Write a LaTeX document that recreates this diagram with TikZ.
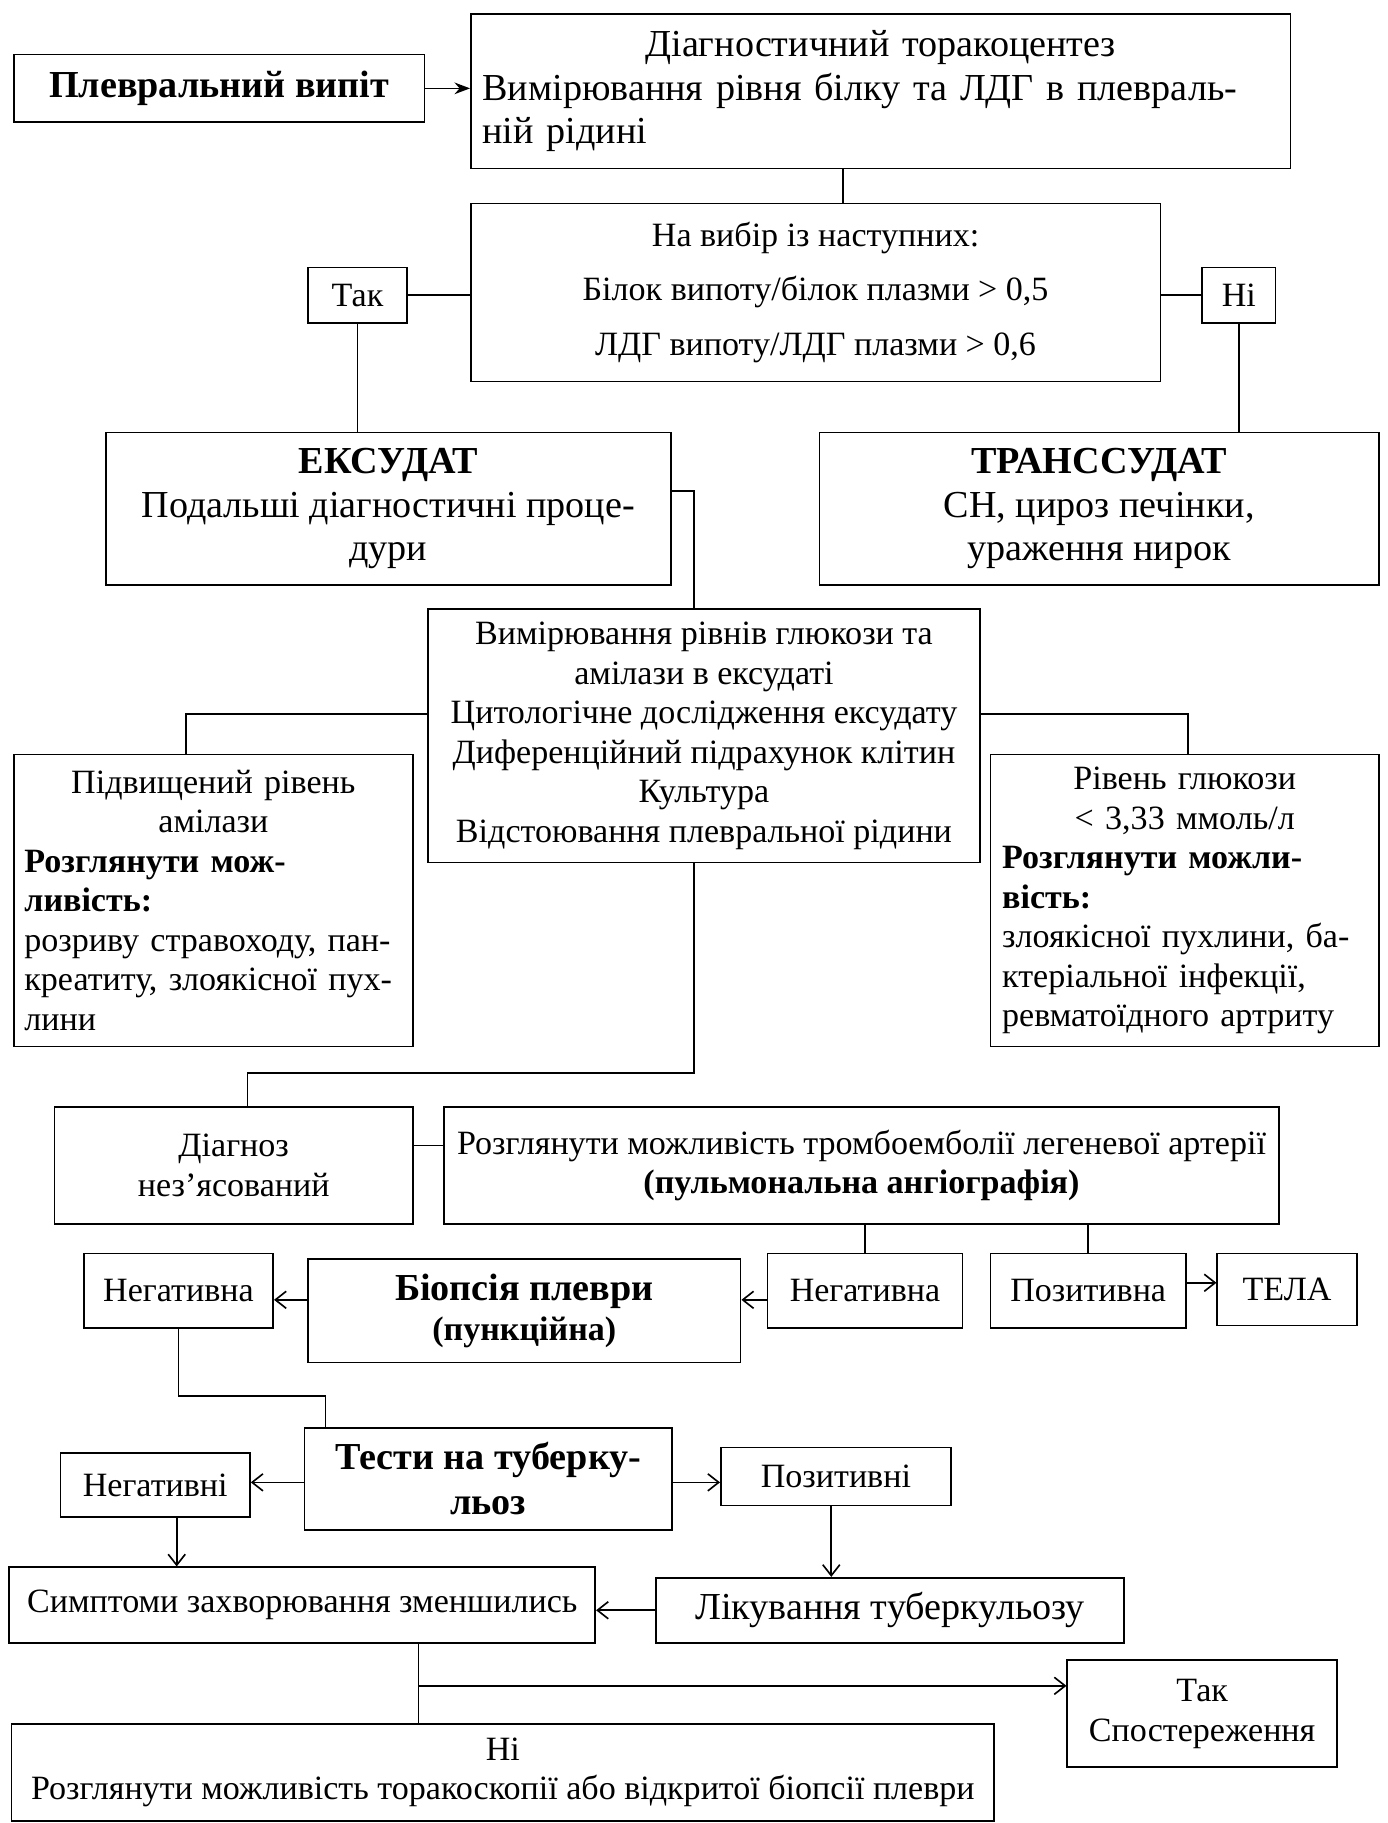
\documentclass[tikz,border=0pt]{standalone}
\usepackage{fontspec}
\setmainfont{Liberation Serif}
\usetikzlibrary{arrows.meta}
\tikzstyle{block}=[draw, line width=0.6pt, inner sep=2pt, align=center, font=\fontsize{12.5}{14.5}\selectfont]
\tikzstyle{big}=[font=\fontsize{14}{16}\selectfont]
\tikzstyle{bigb}=[font=\fontsize{14}{16.5}\selectfont\bfseries]
\tikzstyle{arr}=[-{Straight Barb[length=1.4mm, width=2.2mm]}]
\tikzset{wh/.style 2 args={minimum width=#1*0.15mm, minimum height=#2*0.15mm}}
\newcommand{\hd}[1]{{\fontsize{14}{16}\selectfont\bfseries #1}}
\newcommand{\ctrline}[1]{\hfill#1\hfill\null\\}

\begin{document}
\begin{tikzpicture}[x=0.15mm, y=-0.15mm, line width=0.6pt]
\useasboundingbox (0,0) rectangle (1193,1568);

\node [block, bigb, wh={353}{58}] (plev) at (188.5, 76) {Плевральний випіт};
\node [block, big, wh={705}{133}, text width=685*0.15mm, align=left] (diag) at (757.5, 78.5)
  {\ctrline{Діагностичний торакоцентез}Вимірювання рівня білку та ЛДГ в плевраль-\\ній рідині};
\node [block, wh={593}{153}] (choice) at (701.5, 251.5)
  {На вибір із наступних:\\[1.9mm] Білок випоту/білок плазми > 0,5\\[1.9mm] ЛДГ випоту/ЛДГ плазми > 0,6};
\node [block, wh={85}{48}]  (tak) at (307.5, 254) {Так};
\node [block, wh={63}{48}]  (ni)  at (1065.5, 254) {Ні};

\node [block, big, wh={486}{131}] (exud)  at (334, 437.5)   {\hd{ЕКСУДАТ}\\Подальші діагностичні проце-\\дури};
\node [block, big, wh={481}{131}] (trans) at (945.5, 437.5) {\hd{ТРАНССУДАТ}\\СН, цироз печінки,\\ураження нирок};

\node [block, wh={475}{218}] (meas) at (605.5, 633)
  {Вимірювання рівнів глюкози та\\амілази в ексудаті\\Цитологічне дослідження ексудату\\Диференційний підрахунок клітин\\Культура\\Відстоювання плевральної рідини};
\node [block, wh={343}{251}, text width=325*0.15mm, align=left] (amyl) at (183.5, 774.5)
  {\ctrline{Підвищений рівень}\ctrline{амілази}\textbf{Розглянути мож-\\ливість:}\\розриву стравоходу, пан-\\креатиту, злоякісної пух-\\лини};
\node [block, wh={334}{251}, text width=314*0.15mm, align=left] (gluc) at (1019, 774.5)
  {\ctrline{Рівень глюкози}\ctrline{< 3,33 ммоль/л}\textbf{Розглянути можли-\\вість:}\\злоякісної пухлини, ба-\\ктеріальної інфекції,\\ревматоїдного артриту};

\node [block, wh={308}{101}] (diagn) at (201, 1002.5) {Діагноз\\нез’ясований};
\node [block, wh={718}{101}] (pe)    at (741, 1002.5)
  {Розглянути можливість тромбоемболії легеневої артерії\\\textbf{(пульмональна ангіографія)}};

\node [block, wh={168}{64}] (neg1) at (744, 1110)  {Негативна};
\node [block, wh={168}{64}] (poz)  at (936, 1110)  {Позитивна};
\node [block, wh={120}{62}] (tela) at (1107, 1109) {ТЕЛА};
\node [block, wh={372}{89}] (biop) at (451, 1127.5) {\hd{Біопсія плеври}\\\textbf{(пункційна)}};
\node [block, wh={163}{64}] (neg2) at (153.5, 1110) {Негативна};

\node [block, bigb, wh={316}{88}] (tests) at (420, 1272) {Тести на туберку-\\льоз};
\node [block, wh={163}{55}] (negs) at (133.5, 1277.5) {Негативні};
\node [block, wh={198}{50}] (pozs) at (719, 1270) {Позитивні};
\node [block, wh={504}{65}] (sympt) at (260, 1380.5) {Симптоми захворювання зменшились};
\node [block, big, wh={403}{56}] (treat) at (765.5, 1385) {Лікування туберкульозу};
\node [block, wh={232}{92}] (taksp) at (1034, 1474) {Так\\Спостереження};
\node [block, wh={845}{83}] (nifin) at (432.5, 1524.5)
  {Ні\\Розглянути можливість торакоскопії або відкритої біопсії плеври};

\coordinate (fork) at (360, 1450);

\draw [-{Stealth[length=2mm]}] (plev.east) -- (plev.east -| diag.west);
\draw (diag.south -| 725,0) -- (choice.north -| 725,0);
\draw (tak.east) -- (tak.east -| choice.west);
\draw (ni.west) -- (ni.west -| choice.east);
\draw (tak.south) -- (tak.south |- exud.north);
\draw (ni.south) -- (ni.south |- trans.north);
\draw ([yshift=2.3mm]exud.east) -| (meas.north -| 597,0);
\draw (meas.west |- 0,614) -| (amyl.north -| 160,0);
\draw (meas.east |- 0,614) -| (gluc.north -| 1022,0);
\draw (meas.south -| 597,0) -- ++(0,180) -| (diagn.north -| 213,0);
\draw ([yshift=2.6mm]diagn.east) -- ([yshift=2.6mm]pe.west);
\draw (neg1.north |- pe.south) -- (neg1.north);
\draw (poz.north |- pe.south) -- (poz.north);
\draw [arr] ([yshift=1mm]poz.east) -- ([yshift=1mm]poz.east -| tela.west);
\draw [arr] (neg1.west |- 0,1118) -- (biop.east |- 0,1118);
\draw [arr] (biop.west |- 0,1118) -- (neg2.east |- 0,1118);
\draw (neg2.south) -- ++(0,58) -| (tests.north -| 280,0);
\draw [arr] (tests.west |- 0,1275) -- (negs.east |- 0,1275);
\draw [arr] (tests.east |- 0,1275) -- (pozs.west |- 0,1275);
\draw [arr] (negs.south -| 152,0) -- (sympt.north -| 152,0);
\draw [arr] (pozs.south -| 715,0) -- (treat.north -| 715,0);
\draw [arr] (treat.west) -- (treat.west -| sympt.east);
\draw (sympt.south -| fork) -- (nifin.north -| fork);
\draw [arr] (fork) -- (fork -| taksp.west);

\end{tikzpicture}
\end{document}
